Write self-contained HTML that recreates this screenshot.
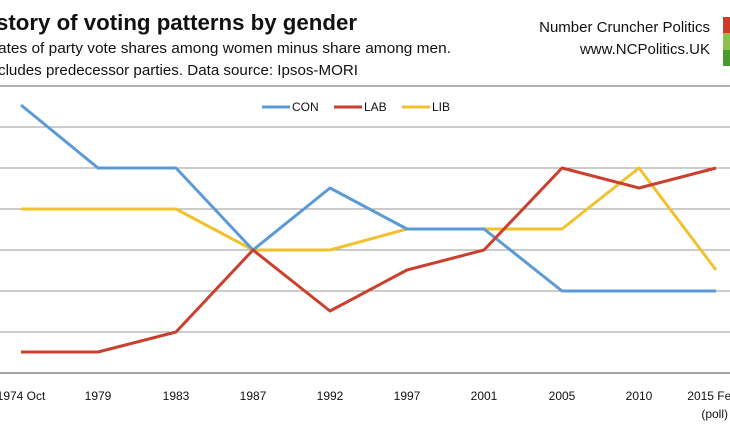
<!DOCTYPE html>
<html><head><style>
body{margin:0;width:730px;height:430px;background:#fff;overflow:hidden;font-family:"Liberation Sans",sans-serif}
</style></head><body>
<svg width="730" height="430" xmlns="http://www.w3.org/2000/svg" font-family="Liberation Sans, sans-serif">
<text x="-4" y="30" font-size="22" font-weight="bold" fill="#111" textLength="361" lengthAdjust="spacingAndGlyphs">story of voting patterns by gender</text>
<text x="-2" y="53" font-size="15" fill="#111" textLength="453" lengthAdjust="spacingAndGlyphs">ates of party vote shares among women minus share among men.</text>
<text x="-2" y="75" font-size="15" fill="#111" textLength="360" lengthAdjust="spacingAndGlyphs">cludes predecessor parties. Data source: Ipsos-MORI</text>
<text x="710" y="32" font-size="15" fill="#111" text-anchor="end">Number Cruncher Politics</text>
<text x="710" y="54" font-size="15" fill="#111" text-anchor="end">www.NCPolitics.UK</text>
<rect x="723" y="17" width="7" height="16" fill="#d03a2a"/>
<rect x="723" y="33" width="7" height="17" fill="#8cc04a"/>
<rect x="723" y="50" width="7" height="16" fill="#4a9a2e"/>
<line x1="0" y1="86" x2="730" y2="86" stroke="#999" stroke-width="1.5"/>
<g stroke="#999" stroke-width="1">
<line x1="0" y1="127" x2="730" y2="127"/><line x1="0" y1="168" x2="730" y2="168"/>
<line x1="0" y1="209" x2="730" y2="209"/><line x1="0" y1="250" x2="730" y2="250"/>
<line x1="0" y1="291" x2="730" y2="291"/><line x1="0" y1="332" x2="730" y2="332"/>
</g>
<line x1="0" y1="373" x2="730" y2="373" stroke="#888" stroke-width="1.5"/>
<g font-size="12" fill="#111">
<line x1="262" y1="107" x2="290" y2="107" stroke="#5b9bd5" stroke-width="3"/><text x="292" y="111">CON</text>
<line x1="334" y1="107" x2="362" y2="107" stroke="#c9402f" stroke-width="3"/><text x="364" y="111">LAB</text>
<line x1="402" y1="107" x2="430" y2="107" stroke="#f2c12e" stroke-width="3"/><text x="432" y="111">LIB</text>
</g>
<g fill="none" stroke-width="3" stroke-linejoin="round">
<polyline stroke="#f2c12e" points="21,209 98,209 176,209 253,250 330,250 407,229 484,229 562,229 639,168 716,270"/>
<polyline stroke="#5b9bd5" points="21,105 98,168 176,168 253,250 330,188 407,229 484,229 562,291 639,291 716,291"/>
<polyline stroke="#c9402f" points="21,352 98,352 176,332 253,250 330,311 407,270 484,250 562,168 639,188 716,168"/>
</g>
<g font-size="12" fill="#111" text-anchor="middle">
<text x="21" y="400">1974 Oct</text><text x="98" y="400">1979</text><text x="176" y="400">1983</text>
<text x="253" y="400">1987</text><text x="330" y="400">1992</text><text x="407" y="400">1997</text>
<text x="484" y="400">2001</text><text x="562" y="400">2005</text><text x="639" y="400">2010</text>
<text x="738" y="400" text-anchor="end">2015 Feb</text><text x="728" y="418" text-anchor="end">(poll)</text>
</g>
</svg>
</body></html>
